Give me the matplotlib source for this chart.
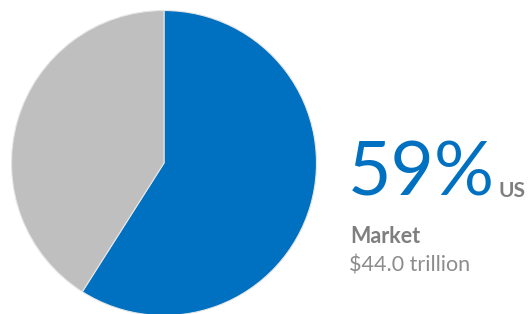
import matplotlib.pyplot as plt

# market share
labels = ['US', 'Rest of world']
shares = [59, 41]
colors = ['#0070C0', '#BFBFBF']
big_text = '59%'
region = 'US'
caption = 'Market'
value_text = '$44.0 trillion'

plt.rcParams['font.family'] = ['Lato', 'DejaVu Sans']

fig = plt.figure(figsize=(5.31, 3.14), dpi=100)

### PIE ###
ax = fig.add_axes([10 / 531, -3 / 314, 308 / 531, 308 / 314])
ax.pie(shares, colors=colors, startangle=90, counterclock=False, radius=1,
       wedgeprops=dict(edgecolor='#E6E6E6', linewidth=0.8))
ax.set_xlim(-1.01, 1.01)
ax.set_ylim(-1.01, 1.01)
ax.set_aspect('equal')
ax.axis('off')

### TEXT ###
fig.text(348 / 531, 1 - 196 / 314, big_text, color='#0070C0', fontsize=54,
         ha='left', va='baseline')
fig.text(499 / 531, 1 - 197 / 314, region, color='#7F7F7F', fontsize=15,
         fontweight='bold', ha='left', va='baseline')
fig.text(350 / 531, 1 - 243 / 314, caption, color='#7F7F7F', fontsize=15.5,
         fontweight='bold', ha='left', va='baseline')
fig.text(349 / 531, 1 - 271 / 314, value_text, color='#8C8C8C', fontsize=15.5,
         ha='left', va='baseline')

fig.savefig('out.png', dpi=100)
